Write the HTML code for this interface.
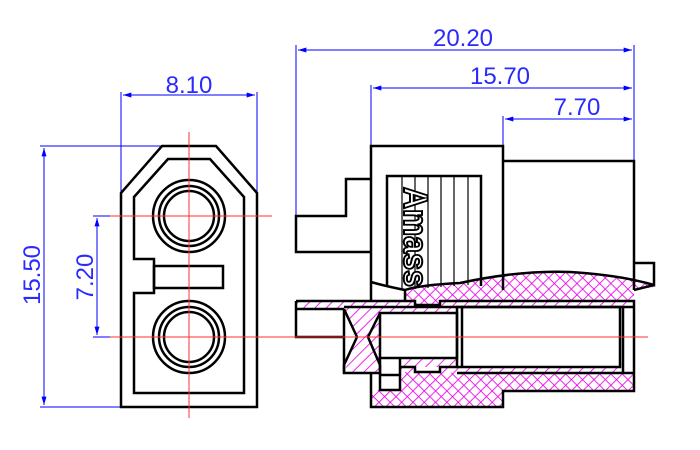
<!DOCTYPE html>
<html><head><meta charset="utf-8"><style>html,body{margin:0;padding:0;background:#fff}svg{display:block}</style></head>
<body>
<svg width="700" height="450" viewBox="0 0 700 450" xmlns="http://www.w3.org/2000/svg">
<defs>
<pattern id="diag" width="8" height="8" patternUnits="userSpaceOnUse" patternTransform="rotate(45)">
<rect width="8" height="8" fill="#fff"/><line x1="0" y1="0" x2="0" y2="8" stroke="#ee00ee" stroke-width="1.7"/></pattern>
<pattern id="cross" width="8" height="8" patternUnits="userSpaceOnUse" patternTransform="rotate(45)">
<rect width="8" height="8" fill="#fff"/><line x1="0" y1="0" x2="0" y2="8" stroke="#ee00ee" stroke-width="1.7"/><line x1="0" y1="0" x2="8" y2="0" stroke="#ee00ee" stroke-width="1.7"/></pattern>
<marker id="ar" viewBox="0 0 10 6" refX="10" refY="3" markerWidth="14" markerHeight="5" markerUnits="userSpaceOnUse" orient="auto-start-reverse"><path d="M0,0L10,3L0,6z" fill="#0000ff"/></marker>
</defs>
<g font-family="Liberation Sans, sans-serif" font-size="24" fill="#2a2aff" text-anchor="middle">
<text x="189" y="93">8.10</text>
<text x="463" y="46">20.20</text>
<text x="500" y="84">15.70</text>
<text x="577" y="115">7.70</text>
<text transform="translate(40,275) rotate(-90)">15.50</text>
<text transform="translate(93,277) rotate(-90)">7.20</text>
</g>
<g stroke="#0000ff" stroke-width="1" fill="none">
<line x1="121" y1="92" x2="121" y2="193"/><line x1="257" y1="92" x2="257" y2="193"/>
<line x1="123" y1="95" x2="255" y2="95" marker-start="url(#ar)" marker-end="url(#ar)"/>
<line x1="40" y1="146" x2="162" y2="146"/><line x1="40" y1="407" x2="121" y2="407"/>
<line x1="44" y1="148" x2="44" y2="405" marker-start="url(#ar)" marker-end="url(#ar)"/>
<line x1="93" y1="216" x2="189" y2="216"/><line x1="93" y1="337" x2="189" y2="337"/>
<line x1="97" y1="218" x2="97" y2="335" marker-start="url(#ar)" marker-end="url(#ar)"/>
<line x1="296" y1="45" x2="296" y2="216"/><line x1="634" y1="45" x2="634" y2="161"/>
<line x1="371" y1="85" x2="371" y2="146"/><line x1="503" y1="116" x2="503" y2="161"/>
<line x1="298" y1="50" x2="632" y2="50" marker-start="url(#ar)" marker-end="url(#ar)"/>
<line x1="373" y1="88" x2="632" y2="88" marker-start="url(#ar)" marker-end="url(#ar)"/>
<line x1="505" y1="119" x2="632" y2="119" marker-start="url(#ar)" marker-end="url(#ar)"/>
</g>
<g stroke="#000" stroke-width="2.5" fill="none">
<path d="M121,193 L162,146 L216,146 L257,193 L257,407 L121,407 Z"/>
<path d="M134,197 L168,159 L210,159 L244,197 L244,393 L134,393 L134,293 L154,293 L154,259 L134,259 Z"/>
<rect x="154" y="266" width="69" height="22"/>
<circle cx="189" cy="216" r="36"/><circle cx="189" cy="216" r="30"/><circle cx="189" cy="216" r="25"/>
<circle cx="189" cy="337" r="36"/><circle cx="189" cy="337" r="30"/><circle cx="189" cy="337" r="25"/>
</g>
<g stroke="#ff3030" stroke-width="1">
<line x1="189" y1="132" x2="189" y2="418"/>
<line x1="110" y1="216" x2="272" y2="216"/><line x1="110" y1="337" x2="272" y2="337"/>
</g>
<path d="M405,290 Q420,285 460,283 Q520,270 570,272 Q620,275 654,285 L654,287 L634,290 L634,300 L440,300 L440,305 L415,305 L415,300 L405,300 Z" fill="url(#cross)"/>
<path d="M400,367 L415,367 L415,372 L440,372 L440,367 L457,367 L457,373 L634,373 L634,391 L503,391 L503,407 L371,407 L371,390 L400,390 Z" fill="url(#cross)"/>
<path d="M296,301 L415,301 L415,305 L440,305 L440,301 L634,301 L634,307 L457,307 L457,313 L380,313 L380,365 L368,337 L380,313 L380,373 L344,373 L357,337 L344,309 L296,309 Z" fill="url(#diag)"/>
<path d="M380,313 L380,365 L368,337 Z" fill="url(#diag)"/>
<path d="M400,358 L457,358 L457,367 L620,367 L620,373 L457,373 L440,372 L440,367 L415,367 L415,372 L400,372 Z" fill="url(#diag)"/>
<g stroke="#000" stroke-width="2.5" fill="none">
<path d="M371,301 L371,146 L503,146 L503,290"/>
<path d="M503,161 L634,161 L634,290"/>
<path d="M371,179 L346,179 L346,216 L296,216 L296,252 L371,252"/>
<path d="M387,287 L387,176 L481,176 L481,286"/>
<path d="M371,282 Q385,286 405,290"/>
<path d="M405,290 Q420,285 460,283 Q520,270 570,272 Q620,275 654,285 L654,263 L634,263"/>
<path d="M654,285 L634,290"/>
<path d="M405,301 L405,290"/>
<path d="M296,301 L415,301 L415,305 L440,305 L440,301 L634,301 L634,391 L503,391 L503,407 L371,407 L371,373"/>
<path d="M296,301 L296,337 L344,337"/>
<path d="M344,309 L296,309"/>
<path d="M344,307 L633,307"/>
<path d="M344,309 L357,337 L344,365 L344,373 L380,373 L380,365 L368,337 L380,313"/>
<path d="M344,309 L344,373"/>
<rect x="380" y="313" width="77" height="45"/>
<rect x="457" y="307" width="163" height="60"/>
<line x1="462" y1="307" x2="462" y2="367"/>
<line x1="623" y1="307" x2="623" y2="373"/>
<path d="M380,358 L380,390 L400,390 L400,358"/>
<path d="M380,375 L400,375"/>
<path d="M400,367 L415,367 L415,372 L440,372 L440,367 L457,367"/>
<path d="M457,373 L634,373"/>
</g>
<g stroke="#000" stroke-width="1.2">
<line x1="402" y1="176" x2="402" y2="289"/><line x1="415" y1="176" x2="415" y2="289"/>
<line x1="428" y1="176" x2="428" y2="288"/><line x1="441" y1="176" x2="441" y2="287"/>
<line x1="454" y1="176" x2="454" y2="286"/><line x1="468" y1="176" x2="468" y2="285"/>
</g>
<text transform="translate(404,187) rotate(90)" font-family="Liberation Sans, sans-serif" font-size="34" font-weight="bold" fill="#fff" stroke="#000" stroke-width="2" textLength="100" lengthAdjust="spacingAndGlyphs">Amass</text>
<line x1="270" y1="337" x2="648" y2="337" stroke="#ff3030" stroke-width="1"/>
</svg>
</body></html>
